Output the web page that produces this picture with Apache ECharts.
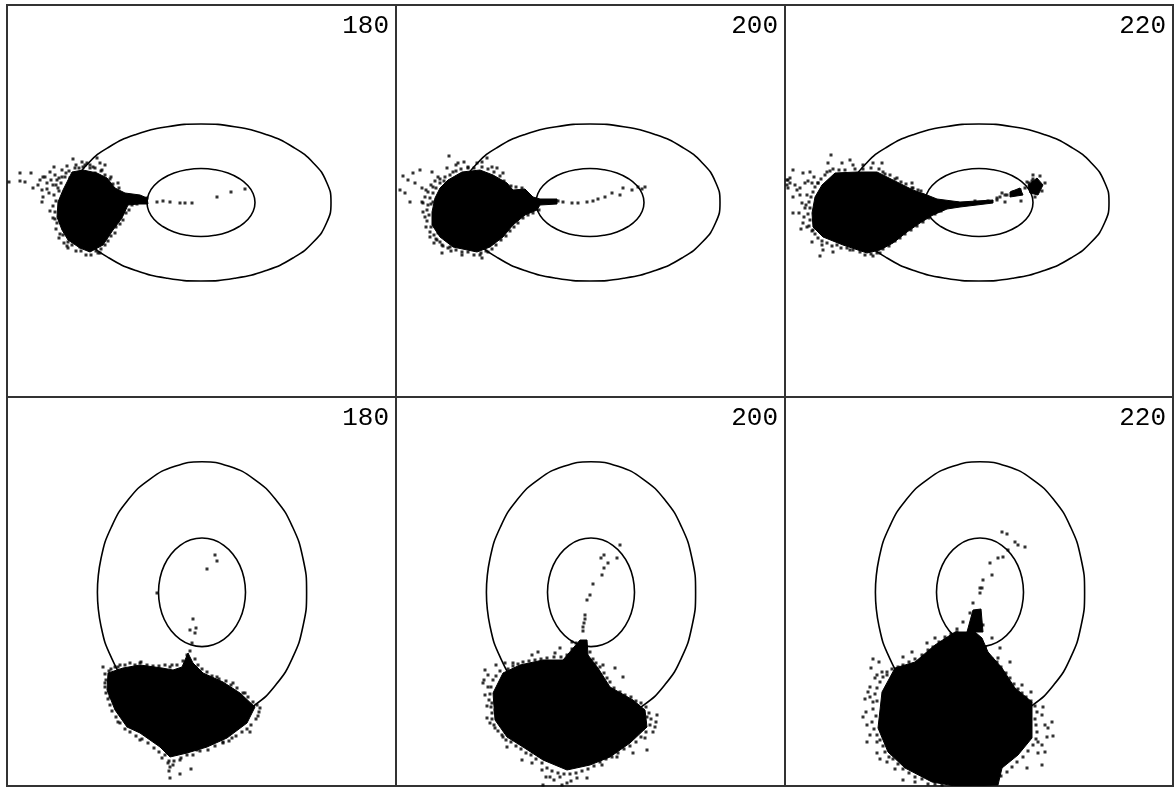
<!DOCTYPE html>
<html><head><meta charset="utf-8">
<style>html,body{margin:0;padding:0;background:#fff}#c{width:1174px;height:789px}</style>
<script src="https://cdn.jsdelivr.net/npm/echarts@6/dist/echarts.min.js"></script>
</head><body><div id="c"></div>
<script>
const panelLabels = ['180','200','220','180','200','220'];

const topCentre = [194,197.5];
const bottomCentre = [195,195.3];
const topOuter = [[-130,0],[-125.6,-20.3],[-112.6,-39.3],[-91.9,-55.5],[-65,-68],[-33.6,-75.8],[0,-78.5],[33.6,-75.8],[65,-68],[91.9,-55.5],[112.6,-39.3],[125.6,-20.3],[130,0],[125.6,20.3],[112.6,39.3],[91.9,55.5],[65,68],[33.6,75.8],[0,78.5],[-33.6,75.8],[-65,68],[-91.9,55.5],[-112.6,39.3],[-125.6,20.3],[-130,0]];
const topInner = [[-54,0],[-52.2,-8.8],[-46.8,-17],[-38.2,-24],[-27,-29.4],[-14,-32.8],[0,-34],[14,-32.8],[27,-29.4],[38.2,-24],[46.8,-17],[52.2,-8.8],[54,0],[52.2,8.8],[46.8,17],[38.2,24],[27,29.4],[14,32.8],[0,34],[-14,32.8],[-27,29.4],[-38.2,24],[-46.8,17],[-52.2,8.8],[-54,0]];
const bottomOuter = [[-104.6,0],[-101,-33.8],[-90.6,-65.3],[-74,-92.3],[-52.3,-113],[-27.1,-126],[0,-130.5],[27.1,-126],[52.3,-113],[74,-92.3],[90.6,-65.3],[101,-33.8],[104.6,0],[101,33.8],[90.6,65.3],[74,92.3],[52.3,113],[27.1,126],[0,130.5],[-27.1,126],[-52.3,113],[-74,92.3],[-90.6,65.3],[-101,33.8],[-104.6,0]];
const bottomInner = [[-43.5,0],[-42,-14.1],[-37.7,-27.2],[-30.8,-38.4],[-21.8,-47],[-11.3,-52.5],[0,-54.3],[11.3,-52.5],[21.8,-47],[30.8,-38.4],[37.7,-27.2],[42,-14.1],[43.5,0],[42,14.1],[37.7,27.2],[30.8,38.4],[21.8,47],[11.3,52.5],[0,54.3],[-11.3,52.5],[-21.8,47],[-30.8,38.4],[-37.7,27.2],[-42,14.1],[-43.5,0]];

const dense1 = [[[65,167],[76,165],[90,168],[100,173],[108,183],[118,188],[133,190],[140,193],[141,199],[131,199],[121,200],[115,213],[106,225],[96,240],[83,247],[73,243],[61,235],[55,225],[50,212],[51,197],[56,185],[61,175]]];
const dense2 = [[[52,175],[66,167],[84,165],[97,170],[111,178],[117,185],[129,184],[137,192],[144,194],[161,194],[161,199],[144,200],[141,205],[129,210],[117,220],[107,232],[94,242],[81,247],[57,242],[44,232],[36,220],[36,207],[39,193],[44,183]]];
const dense3 = [[[50,168],[72,167],[92,167],[102,172],[118,180],[128,185],[142,190],[152,194],[175,197],[208,195],[208,198],[175,202],[162,204],[148,210],[135,218],[122,227],[108,238],[95,245],[82,248],[58,240],[38,232],[28,222],[27,208],[30,192],[37,180]],[[243,180],[252,173],[258,180],[253,190],[245,188]],[[225,187],[235,183],[238,190],[225,192]]];
const dense4 = [[[101,276],[116,271],[133,268],[155,271],[166,273],[175,270],[181,256],[186,266],[196,276],[216,285],[233,296],[248,310],[240,326],[220,341],[200,350],[180,356],[163,360],[153,350],[133,336],[120,330],[108,313],[100,293]]];
const dense5 = [[[107,276],[124,268],[147,263],[167,263],[184,243],[191,243],[192,258],[202,271],[214,290],[237,303],[249,313],[251,330],[234,346],[214,360],[194,368],[171,373],[147,363],[127,350],[111,340],[99,323],[97,296]]];
const dense6 = [[[110,271],[130,265],[150,248],[170,235],[190,235],[197,241],[203,255],[217,271],[230,291],[247,305],[247,341],[233,358],[217,371],[213,388],[183,389],[170,389],[147,385],[120,371],[103,355],[93,331],[97,295]],[[188,213],[196,212],[198,235],[182,235]]];

const dots1 = [[66,154],[75,157],[69,160],[90,153],[83,160],[93,158],[98,160],[88,168],[76,162],[80,158],[13,168],[24,168],[13,176],[18,177],[2,177],[43,167],[36,172],[48,170],[55,172],[63,173],[31,180],[26,183],[35,185],[46,180],[51,183],[36,192],[35,197],[43,206],[48,214],[56,230],[61,237],[61,243],[73,242],[91,248],[101,177],[111,178],[118,190],[130,199],[140,193],[150,197],[156,196],[163,197],[173,198],[178,198],[185,198],[210,192],[224,187],[238,184],[93,248],[50,175],[40,178],
[58,172],[54,178],[49,180],[52,186],[47,190],[49,196],[46,201],[48,207],[46,213],[50,218],[49,224],[53,229],[52,233],[57,238],[60,241],[65,240],[69,246],[74,246],[79,250],[84,250],[89,246],[94,244],[98,240],[101,236],[104,231],[108,228],[109,222],[113,219],[116,215],[119,208],[122,205],[125,200],[112,183],[106,179],[103,174],[98,170],[94,166],[88,163],[83,163],[78,160],[72,163],[68,163],[62,166],[59,168],[52,173],[44,175],[40,184],[42,188],[38,172],[33,175],[47,162],[55,165],[60,161],[86,162],[95,165],[104,172]];
const dots2 = [[53,151],[62,158],[68,157],[72,163],[81,158],[91,153],[86,157],[101,163],[107,168],[7,171],[17,168],[24,165],[36,167],[42,172],[51,163],[57,167],[12,175],[19,178],[26,183],[32,187],[37,182],[4,185],[9,188],[14,197],[26,197],[27,207],[32,200],[37,197],[46,195],[46,208],[41,235],[46,240],[46,248],[54,242],[66,247],[72,241],[84,250],[86,253],[92,247],[162,196],[167,197],[176,198],[182,198],[191,197],[197,196],[202,194],[209,192],[216,188],[224,190],[227,183],[236,185],[242,182],[249,182],[246,184],
[48,176],[44,178],[40,183],[37,188],[34,193],[35,199],[31,205],[33,210],[31,216],[35,222],[34,227],[38,230],[40,234],[44,237],[47,241],[52,243],[55,246],[60,245],[66,250],[72,247],[78,250],[85,248],[90,246],[96,244],[100,240],[105,235],[110,231],[114,226],[118,222],[122,218],[127,213],[132,210],[137,208],[143,205],[115,181],[108,176],[104,171],[98,167],[92,164],[86,162],[78,163],[72,162],[65,164],[60,166],[54,170],[49,172],[44,174],[39,176],[35,180],[30,185],[29,192],[27,198],[29,212],[30,222],[34,232],[38,238],[42,228],[60,160],[96,162],[120,182],[126,183]];
const dots3 = [[46,150],[43,158],[42,167],[57,158],[65,155],[68,160],[78,160],[88,158],[97,158],[98,167],[8,165],[18,168],[25,167],[2,175],[5,178],[3,183],[10,180],[15,183],[20,178],[27,178],[33,178],[8,192],[15,190],[22,190],[17,198],[20,203],[8,208],[18,218],[22,222],[28,225],[27,237],[37,240],[38,245],[35,251],[48,247],[65,245],[72,242],[88,251],[95,248],[112,173],[127,178],[128,183],[138,190],[212,195],[217,188],[222,190],[236,196],[242,177],[248,174],[220,197],[203,196],[190,196],[172,198],[3,175],[2,180],[5,173],
[45,166],[40,170],[36,174],[33,178],[30,182],[28,187],[26,192],[24,197],[25,203],[23,209],[25,215],[24,221],[27,226],[30,229],[33,233],[37,236],[42,238],[47,241],[52,240],[56,243],[62,243],[68,245],[75,247],[80,250],[86,249],[92,248],[98,244],[104,241],[110,236],[115,233],[120,229],[126,225],[132,221],[138,217],[144,213],[150,209],[156,206],[105,170],[110,174],[116,177],[121,179],[127,183],[133,185],[136,186],[100,169],[94,164],[86,163],[78,164],[70,164],[60,165],[54,165],[48,164],[21,200],[19,212],[16,224],[14,208],[12,185],[23,176],[29,172],[215,192],[220,190],[212,193],[228,187],[235,185],[240,183],[247,176],[255,171],[260,178],[257,186],[250,192],[248,170],[244,178]];
const dots4 = [[96,270],[111,270],[133,266],[165,268],[183,233],[189,231],[186,222],[188,236],[185,246],[200,172],[208,158],[210,164],[150,196],[210,280],[226,286],[238,296],[253,311],[251,319],[243,335],[225,341],[216,345],[203,343],[190,353],[173,363],[161,366],[163,381],[173,377],[184,372],[155,361],[133,343],[111,325],[98,286],[103,300],[178,268],[183,265],[190,273],
[104,272],[108,270],[113,268],[118,268],[123,266],[128,268],[134,265],[140,268],[146,269],[152,269],[158,268],[163,270],[170,268],[176,264],[180,258],[183,254],[188,262],[191,268],[195,272],[200,275],[205,279],[212,282],[219,284],[224,288],[230,291],[236,296],[241,300],[246,305],[250,308],[252,315],[249,322],[244,328],[240,332],[235,335],[229,339],[222,344],[216,346],[208,349],[201,353],[193,354],[186,358],[180,358],[174,361],[167,364],[162,364],[158,358],[152,355],[147,351],[141,346],[135,342],[129,339],[123,335],[118,332],[113,326],[109,320],[105,314],[103,308],[101,302],[99,296],[98,290],[99,283],[98,277],[102,274],[163,370],[162,374],[166,368]];
const dots5 = [[89,273],[87,286],[92,278],[89,298],[96,306],[91,321],[99,313],[99,331],[107,340],[111,350],[126,363],[136,366],[146,373],[154,380],[164,380],[171,386],[181,381],[191,381],[147,388],[166,388],[206,368],[221,360],[237,356],[251,353],[249,341],[261,318],[259,330],[251,320],[227,280],[219,271],[207,268],[201,280],[142,255],[136,258],[164,251],[176,245],[189,218],[189,222],[188,226],[187,230],[187,234],[191,203],[194,198],[197,187],[206,178],[208,171],[212,166],[205,161],[208,158],[221,161],[224,148],[159,256],[117,266],[109,266],
[104,274],[100,279],[97,283],[95,290],[94,297],[93,303],[95,310],[96,316],[96,322],[98,328],[102,334],[106,338],[110,343],[115,345],[120,349],[125,352],[130,356],[135,358],[140,362],[146,366],[151,371],[156,374],[162,376],[168,377],[174,377],[180,376],[186,374],[192,372],[198,369],[204,365],[210,362],[216,360],[222,356],[228,352],[234,349],[240,345],[245,340],[250,335],[254,328],[255,322],[253,316],[250,310],[245,306],[240,304],[235,300],[229,298],[224,295],[218,291],[214,285],[211,281],[208,276],[204,270],[200,266],[197,262],[194,255],[180,246],[176,252],[171,258],[165,260],[158,260],[151,261],[145,262],[139,263],[133,264],[127,265],[122,267],[117,269],[112,272],[91,309],[92,290],[88,283],[100,268],[150,380],[158,383],[175,384],[260,325],[257,335],[94,326]];
const dots6 = [[86,271],[92,278],[85,290],[80,302],[83,295],[88,305],[82,328],[85,338],[92,345],[92,356],[102,365],[118,383],[130,385],[257,368],[268,339],[267,325],[260,328],[253,345],[257,348],[253,356],[242,371],[225,265],[213,261],[142,246],[150,241],[160,243],[127,255],[118,260],[172,235],[178,225],[185,216],[188,206],[195,191],[198,183],[207,178],[205,166],[213,161],[218,160],[223,153],[230,145],[233,148],[240,150],[217,135],[222,137],[197,191],[195,196],[192,215],[195,226],[198,228],[207,241],[215,251],[200,251],[227,291],[237,288],[257,318],[263,331],[90,281],[97,275],[102,278],
[107,272],[102,275],[98,280],[95,285],[92,291],[90,297],[92,304],[88,312],[91,319],[87,325],[89,332],[92,338],[95,343],[98,349],[100,355],[104,360],[108,362],[113,367],[118,372],[124,376],[130,380],[137,382],[143,387],[150,387],[157,388],[216,379],[222,375],[227,370],[232,365],[238,360],[243,354],[248,348],[251,342],[252,335],[251,328],[250,322],[252,315],[250,309],[246,304],[241,300],[237,296],[233,292],[229,287],[225,281],[221,276],[216,270],[212,265],[207,262],[203,258],[200,250],[172,232],[166,237],[160,240],[154,245],[148,250],[143,253],[137,258],[130,262],[124,265],[118,268],[113,270],[85,300],[81,315],[94,265],[88,262],[262,340],[260,355],[258,310],[246,295],[78,320],[82,345],[95,362],[110,372]];

const denseAll = [dense1,dense2,dense3,dense4,dense5,dense6];
const dotsAll = [dots1,dots2,dots3,dots4,dots5,dots6];

const frames = [
  {left:7,top:5,width:389,height:392},{left:396,top:5,width:389,height:392},{left:785,top:5,width:388,height:392},
  {left:7,top:397,width:389,height:389},{left:396,top:397,width:389,height:389},{left:785,top:397,width:388,height:389}
];

const grid=[],xAxis=[],yAxis=[],series=[],title=[];
const shift=(arr,c)=>arr.map(p=>[p[0]+c[0],p[1]+c[1]]);
frames.forEach((f,i)=>{
  grid.push({...f,show:true,borderColor:'#333',borderWidth:2,backgroundColor:'#fff',containLabel:false});
  xAxis.push({type:'value',gridIndex:i,min:0,max:f.width,show:false});
  yAxis.push({type:'value',gridIndex:i,min:0,max:f.height,inverse:true,show:false});
  const isTop=i<3, c=isTop?topCentre:bottomCentre;
  [isTop?topOuter:bottomOuter,isTop?topInner:bottomInner].forEach(r=>{
    series.push({type:'line',xAxisIndex:i,yAxisIndex:i,data:shift(r,c),smooth:true,symbol:'none',silent:true,animation:false,
      lineStyle:{color:'#000',width:1.6}});
  });
  const polys=denseAll[i];
  series.push({type:'custom',xAxisIndex:i,yAxisIndex:i,silent:true,animation:false,clip:true,
    data:polys.map((p,k)=>[k]),encode:{x:[],y:[]},
    renderItem:(params,api)=>({type:'polygon',
      shape:{points:polys[api.value(0)].map(pt=>api.coord(pt))},style:{fill:'#000',stroke:'#000',lineWidth:1}})});
  series.push({type:'scatter',xAxisIndex:i,yAxisIndex:i,data:dotsAll[i],symbol:'rect',symbolSize:3,silent:true,animation:false,clip:true,
    itemStyle:{color:'#000'}});
  title.push({text:panelLabels[i],right:1174-(f.left+f.width)+7,top:f.top+8,padding:0,
    textStyle:{fontFamily:'Liberation Mono',fontSize:26,fontWeight:'normal',color:'#000'}});
});
const chart=echarts.init(document.getElementById('c'),null,{renderer:'canvas'});
chart.setOption({animation:false,backgroundColor:'#fff',title,grid,xAxis,yAxis,series,tooltip:{show:false}});
</script></body></html>
